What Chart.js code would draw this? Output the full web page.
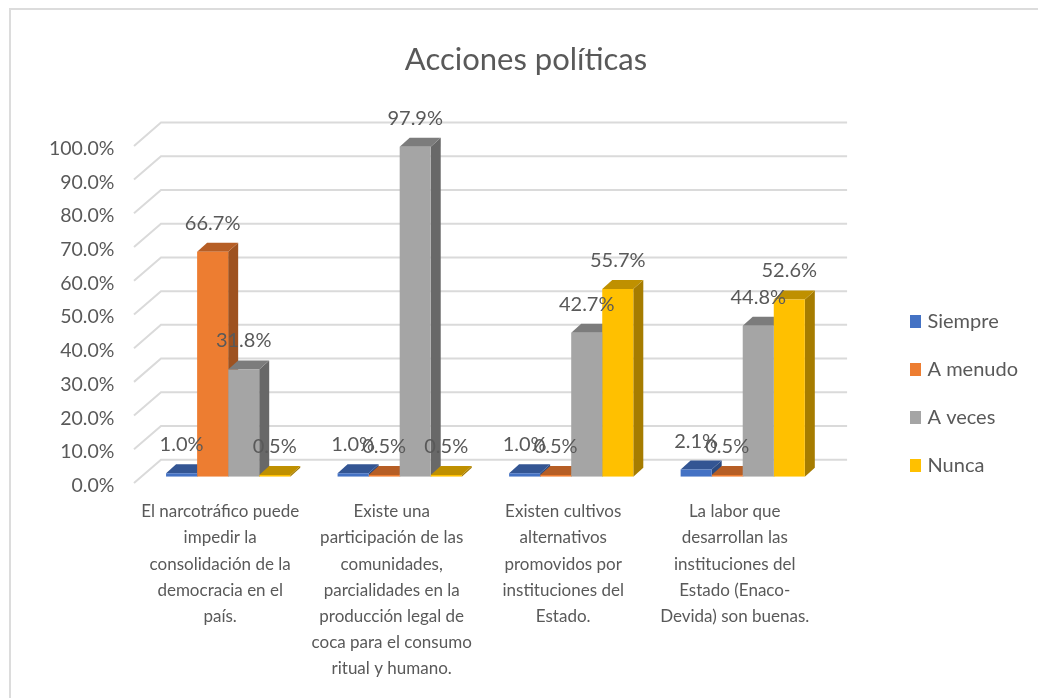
<!DOCTYPE html>
<html><head><meta charset="utf-8">
<style>
html,body{margin:0;padding:0;background:#fff;width:1038px;height:698px;overflow:hidden}
#wrap{position:absolute;left:0;top:0;width:1038px;height:698px}
#frame{position:absolute;left:9px;top:8px;right:0;bottom:0;border-left:2.5px solid #DCDCDC;border-top:2.5px solid #DCDCDC;pointer-events:none}
canvas{filter:blur(0.45px)}
</style>
<script src="https://cdn.jsdelivr.net/npm/chart.js@4"></script>
</head><body>
<div id="wrap"><canvas id="c" width="1038" height="698"></canvas><div id="frame"></div></div>
<script>
const categories = [
  ["El narcotráfico puede","impedir la","consolidación de la","democracia en el","país."],
  ["Existe una","participación de las","comunidades,","parcialidades en la","producción legal de","coca para el consumo","ritual y humano."],
  ["Existen cultivos","alternativos","promovidos por","instituciones del","Estado."],
  ["La labor que","desarrollan las","instituciones del","Estado (Enaco-","Devida) son buenas."]
];
const siempre = [1.0, 1.0, 1.0, 2.1];
const aMenudo = [66.7, 0.5, 0.5, 0.5];
const aVeces  = [31.8, 97.9, 42.7, 44.8];
const nunca   = [0.5, 0.5, 55.7, 52.6];
const seriesNames = ["Siempre","A menudo","A veces","Nunca"];
const frontColors = ["#4472C4","#ED7D31","#A5A5A5","#FFC000"];
const topColors   = ["#335593","#B65E25","#7C7C7C","#BF9000"];
const sideColors  = ["#2C4A80","#9E5220","#686868","#A67C00"];

const FONT = "Lato";
const TXT = "#595959";
const D = {dx:10, dy:9};          // bar depth
const W = {fx:-8.4, fy:6.3, bx:18.6, by:-17}; // wall/floor offset relative to bar plane

const swatches = frontColors.map(col=>{
  const s=document.createElement("canvas"); s.width=11; s.height=13;
  const g=s.getContext("2d"); g.fillStyle=col; g.fillRect(0,0,11,13);
  return s;
});

const depth3d = {
  id:"depth3d",
  afterLayout(chart){ chart.legend.bottom += 26.6; },
  beforeDatasetsDraw(chart){
    const {ctx, chartArea:a, scales:{y}} = chart;
    ctx.save();
    ctx.strokeStyle="#DADADA"; ctx.lineWidth=2;
    y.ticks.forEach(t=>{
      const p=y.getPixelForValue(t.value);
      ctx.beginPath();
      ctx.moveTo(a.left+W.fx,p+W.fy);
      ctx.lineTo(a.left+W.bx,p+W.by);
      ctx.lineTo(a.right+W.bx,p+W.by);
      ctx.stroke();
    });
    // side and top faces, left to right, so later bars cover earlier ones
    chart.data.datasets.forEach((ds,i)=>{
      chart.getDatasetMeta(i).data.forEach(b=>{
        const p=b.getProps(["x","y","base","width"],true);
        const x0=p.x-p.width/2,x1=p.x+p.width/2;
        ctx.fillStyle=sideColors[i];
        ctx.beginPath();
        ctx.moveTo(x1,p.y);ctx.lineTo(x1+D.dx,p.y-D.dy);ctx.lineTo(x1+D.dx,p.base-D.dy);ctx.lineTo(x1,p.base);
        ctx.closePath();ctx.fill();
        ctx.fillStyle=topColors[i];
        ctx.beginPath();
        ctx.moveTo(x0,p.y);ctx.lineTo(x1,p.y);ctx.lineTo(x1+D.dx,p.y-D.dy);ctx.lineTo(x0+D.dx,p.y-D.dy);
        ctx.closePath();ctx.fill();
      });
    });
    ctx.restore();
  },
  afterDatasetsDraw(chart){
    const {ctx}=chart;
    ctx.save();
    ctx.font="20px "+FONT; ctx.fillStyle=TXT; ctx.textAlign="center"; ctx.textBaseline="middle";
    chart.data.datasets.forEach((ds,i)=>{
      chart.getDatasetMeta(i).data.forEach((b,j)=>{
        ctx.fillText(ds.data[j].toFixed(1)+"%", b.x, b.y-28.5);
      });
    });
    ctx.restore();
  }
};

const seriesData=[siempre,aMenudo,aVeces,nunca];
new Chart(document.getElementById("c"),{
  type:"bar",
  data:{labels:categories,datasets:seriesNames.map((n,i)=>({
    label:n,data:seriesData[i],backgroundColor:frontColors[i],borderWidth:0,
    barPercentage:1,categoryPercentage:0.724,yAxisID:"y",xAxisID:"x"
  }))},
  plugins:[depth3d],
  options:{
    responsive:false,animation:false,
    layout:{padding:{left:24,right:10,top:0,bottom:0}},
    plugins:{
      title:{display:true,text:"Acciones políticas",color:TXT,font:{family:FONT,size:31,weight:"normal"},padding:{top:41,bottom:61.4}},
      legend:{position:"right",align:"end",fullSize:false,labels:{usePointStyle:true,pointStyleWidth:3,padding:28,color:TXT,font:{family:FONT,size:20},
        generateLabels(chart){
          const items=Chart.defaults.plugins.legend.labels.generateLabels(chart);
          items.forEach((it,i)=>{it.pointStyle=swatches[i];});
          return items;
        }}},
      tooltip:{enabled:false}
    },
    scales:{
      x:{grid:{display:false},border:{display:false},
        ticks:{maxRotation:0,autoSkip:false,labelOffset:-8,padding:14,color:TXT,font:{family:FONT,size:17,lineHeight:1.54}},
        afterFit(s){s.height=221.3}},
      y:{min:0,max:100,grid:{display:false,drawTicks:false},border:{display:false},
        ticks:{stepSize:10,labelOffset:9,padding:28,color:TXT,font:{family:FONT,size:19.5},callback:v=>v.toFixed(1)+"%"},
        afterFit(s){s.width=118.4}},
      gutter:{type:"linear",position:"right",grid:{display:false},border:{display:false},ticks:{display:false},afterFit(s){s.width=58}}
    }
  }
});
</script>
</body></html>
